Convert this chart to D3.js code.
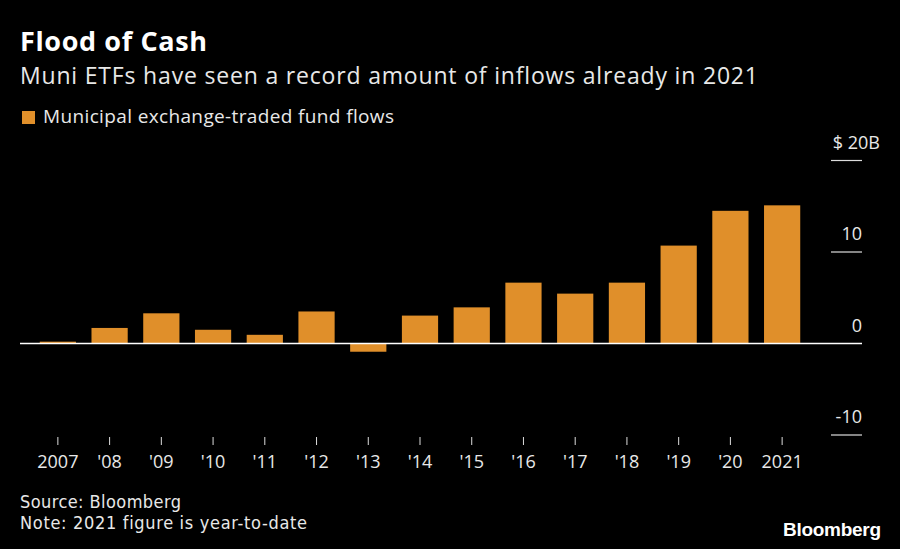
<!DOCTYPE html>
<html><head><meta charset="utf-8">
<script src="https://cdn.jsdelivr.net/npm/d3@7"></script>
<style>
html,body{margin:0;padding:0;background:#000;}
svg{display:block;}
</style></head>
<body>
<svg id="c" width="900" height="549"></svg>
<script>
const categories = ["2007","'08","'09","'10","'11","'12","'13","'14","'15","'16","'17","'18","'19","'20","2021"];
const flows = [0.2,1.7,3.3,1.5,0.95,3.5,-0.9,3.05,3.95,6.65,5.45,6.65,10.7,14.5,15.1];
const yTicks = [-10,0,10,20];
const yTickLabels = ["-10","0","10","$ 20B"];

const svg = d3.select("#c");
svg.append("rect").attr("width",900).attr("height",549).attr("fill","#000");
const font = "'Open Sans', sans-serif";
const cond = "'DejaVu Sans Condensed', 'DejaVu Sans', sans-serif";
const txt = "#e8e8e8";

function fit(sel, target) {
  const n = sel.text().length;
  const w = sel.node().getComputedTextLength();
  sel.attr("letter-spacing", ((target - w) / (n - 1)).toFixed(3));
  return sel;
}

fit(svg.append("text").attr("x",20).attr("y",51).attr("fill","#fff")
  .attr("font-family",font).attr("font-weight",700).attr("font-size",27).text("Flood of Cash"), 187);
fit(svg.append("text").attr("x",20).attr("y",83.5).attr("fill",txt)
  .attr("font-family",font).attr("font-size",23).text("Muni ETFs have seen a record amount of inflows already in 2021"), 738);

const color = "#e08f2a";
svg.append("rect").attr("x",22).attr("y",111).attr("width",13).attr("height",13).attr("fill",color);
fit(svg.append("text").attr("x",43).attr("y",123).attr("fill",txt)
  .attr("font-family",font).attr("font-size",19).text("Municipal exchange-traded fund flows"), 351);

const x = d3.scaleBand().domain(categories).range([32,808]).paddingInner(0.3).paddingOuter(0.15);
const y = d3.scaleLinear().domain([-10,20]).range([435,160.5]);

// right axis ticks
const g = svg.append("g");
yTicks.forEach((t,i)=>{
  if (t!==0) g.append("line").attr("x1",831).attr("x2",862).attr("y1",y(t)).attr("y2",y(t)).attr("stroke","#ddd").attr("stroke-width",1.2);
});
g.selectAll("text.yl").data(yTicks).enter().append("text")
  .attr("x",d=>d===20?880:862).attr("y",d=>y(d)-12).attr("text-anchor","end")
  .attr("fill",txt).attr("font-family",font).attr("font-size",18)
  .text((d,i)=>yTickLabels[i]);

svg.selectAll("rect.bar").data(flows).enter().append("rect")
  .attr("x",(d,i)=>x(categories[i])).attr("width",x.bandwidth())
  .attr("y",d=>y(Math.max(0,d))).attr("height",d=>Math.abs(y(d)-y(0)))
  .attr("fill",color);

svg.append("line").attr("x1",20).attr("x2",862).attr("y1",y(0)).attr("y2",y(0)).attr("stroke","#fff").attr("stroke-width",1.5);

// x axis
const xa = svg.append("g").attr("transform","translate(0,437)")
  .call(d3.axisBottom(x).tickSize(8).tickPadding(10));
xa.select(".domain").remove();
xa.selectAll(".tick line").attr("stroke","#ddd");
xa.selectAll(".tick text").attr("fill",txt).attr("font-family",font).attr("font-size",18);

fit(svg.append("text").attr("x",20).attr("y",508).attr("fill",txt)
  .attr("font-family",cond).attr("font-size",18).text("Source: Bloomberg"), 161);
fit(svg.append("text").attr("x",20).attr("y",529).attr("fill",txt)
  .attr("font-family",cond).attr("font-size",18).text("Note: 2021 figure is year-to-date"), 287);
fit(svg.append("text").attr("x",783).attr("y",536).attr("fill","#fff")
  .attr("font-family","'Liberation Sans', Arial, sans-serif").attr("font-weight",700).attr("font-size",19).text("Bloomberg"), 98);
</script>
</body></html>
